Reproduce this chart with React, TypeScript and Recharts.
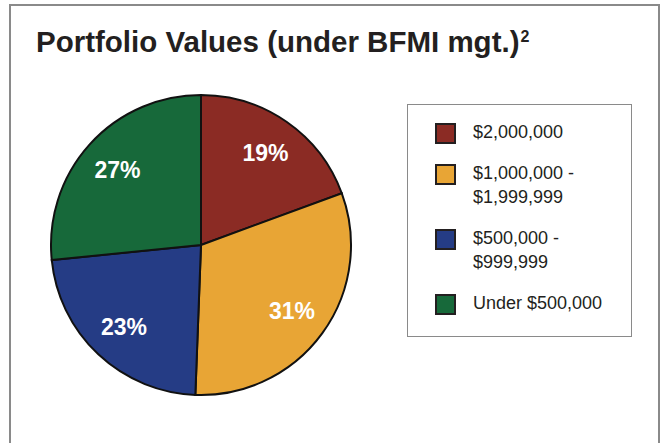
import React from "react";
import { PieChart, Pie, Cell, Legend } from "recharts";

const categories = ["$2,000,000", "$1,000,000 -\n$1,999,999", "$500,000 -\n$999,999", "Under $500,000"];
const shares = [19.4, 31.2, 22.8, 26.6];
const shareLabels = ["19%", "31%", "23%", "27%"];
const colors = ["#8B2B24", "#E8A535", "#253C85", "#17693A"];

const data = categories.map((name, i) => ({ name, value: shares[i], label: shareLabels[i] }));

const FONT = "'Liberation Sans', Arial, Helvetica, sans-serif";
const RAD = Math.PI / 180;

function renderLabel(props: any) {
  const { cx, cy, midAngle, outerRadius, index } = props;
  const r = outerRadius * 0.75;
  const x = cx + r * Math.cos(-midAngle * RAD);
  const y = cy + r * Math.sin(-midAngle * RAD);
  return (
    <text
      x={x}
      y={y}
      fill="#FFFFFF"
      textAnchor="middle"
      dominantBaseline="central"
      fontFamily={FONT}
      fontWeight="bold"
      fontSize={23}
    >
      {shareLabels[index]}
    </text>
  );
}

function LegendBox(props: any) {
  // keep the legend in data order, not alphabetical
  const items = [...(props.payload || [])].sort(
    (a: any, b: any) => categories.indexOf(a.value) - categories.indexOf(b.value)
  );
  return (
    <div
      style={{
        width: 225,
        height: 233,
        border: "1.5px solid #8a8a8a",
        boxSizing: "border-box",
        background: "#fff",
        paddingTop: 15,
        fontFamily: FONT,
        fontSize: 18,
        lineHeight: "24px",
        color: "#231F20",
      }}
    >
      {items.map((entry: any) => (
        <div key={entry.value} style={{ display: "flex", alignItems: "flex-start", marginBottom: 17 }}>
          <div
            style={{
              width: 21,
              height: 21,
              marginLeft: 27,
              marginTop: 3,
              boxSizing: "border-box",
              border: "2px solid #231F20",
              background: colors[categories.indexOf(entry.value)],
              flexShrink: 0,
            }}
          />
          <div style={{ marginLeft: 17, whiteSpace: "pre-line" }}>{entry.value}</div>
        </div>
      ))}
    </div>
  );
}

export default function App() {
  return (
    <div
      style={{
        position: "fixed",
        left: 0,
        top: 0,
        width: 665,
        height: 443,
        background: "#fff",
        overflow: "hidden",
      }}
    >
      <div
        style={{
          position: "absolute",
          left: 9,
          top: 4,
          width: 651,
          height: 460,
          border: "2px solid #8a8a8a",
          boxSizing: "border-box",
        }}
      />
      <div
        style={{
          position: "absolute",
          left: 36,
          top: 27,
          fontFamily: FONT,
          fontWeight: "bold",
          fontSize: 29.5,
          lineHeight: 1,
          color: "#231F20",
          whiteSpace: "nowrap",
        }}
      >
        Portfolio Values (under BFMI mgt.)
        <span style={{ fontSize: 16, position: "relative", top: -10, marginLeft: 1 }}>2</span>
      </div>
      <div style={{ position: "absolute", left: 0, top: 0 }}>
        <PieChart width={665} height={443} margin={{ top: 0, right: 0, bottom: 0, left: 0 }}>
          <Pie
            data={data}
            dataKey="value"
            nameKey="name"
            cx={201}
            cy={245}
            outerRadius={150}
            startAngle={90}
            endAngle={-270}
            stroke="#111"
            strokeWidth={2}
            label={renderLabel}
            labelLine={false}
            isAnimationActive={false}
          >
            {data.map((d, i) => (
              <Cell key={d.name} fill={colors[i]} />
            ))}
          </Pie>
          <Legend
            layout="vertical"
            align="center"
            verticalAlign="middle"
            content={<LegendBox />}
            wrapperStyle={{ left: 407, top: 104, width: 225, height: 233 }}
          />
        </PieChart>
      </div>
    </div>
  );
}
